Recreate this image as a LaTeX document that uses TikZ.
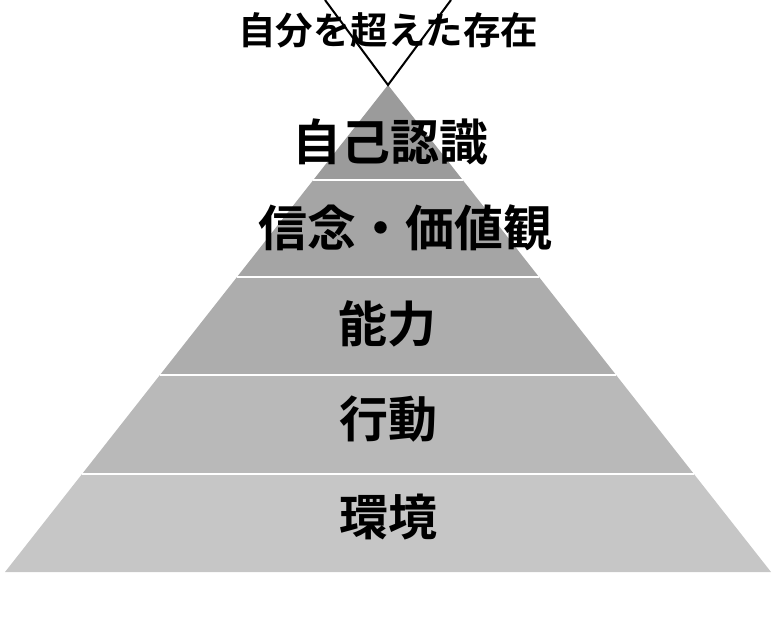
\documentclass[tikz,border=0pt]{standalone}
\usepackage{fontspec}
\newfontfamily\jpfont{Noto Sans CJK JP}[BoldFont={Noto Sans CJK JP Bold}]
\usepackage{tikz}
\usetikzlibrary{calc,positioning}
\definecolor{layerA}{HTML}{9B9B9B}
\definecolor{layerB}{HTML}{A5A5A5}
\definecolor{layerC}{HTML}{ADADAD}
\definecolor{layerD}{HTML}{B9B9B9}
\definecolor{layerE}{HTML}{C6C6C6}
\tikzset{
    %Define style for layer labels
    levelnode/.style={
             inner sep=0pt,
             font=\jpfont\bfseries\fontsize{49}{49}\selectfont},
    topnode/.style={
             inner sep=0pt,
             font=\jpfont\bfseries\fontsize{37.5}{37.5}\selectfont},
    % Define line styles
    divider/.style={
            white,
            line width=2.5pt},
    vline/.style={
            black,
            line width=2pt}
}
\begin{document}
\begin{tikzpicture}[x=1pt, y=-1pt]
 \useasboundingbox (0,0) rectangle (776,618);
 \coordinate (apex) at (388,85);
 \coordinate (bl) at (5,572);
 \coordinate (br) at (771,572);
 \coordinate (vl) at (325,0);
 \coordinate (vr) at (451,0);
 % layer edges
 \coordinate (l1) at ($(apex)!0.195!(bl)$);
 \coordinate (r1) at ($(apex)!0.195!(br)$);
 \coordinate (l2) at ($(apex)!0.394!(bl)$);
 \coordinate (r2) at ($(apex)!0.394!(br)$);
 \coordinate (l3) at ($(apex)!0.5955!(bl)$);
 \coordinate (r3) at ($(apex)!0.5955!(br)$);
 \coordinate (l4) at ($(apex)!0.799!(bl)$);
 \coordinate (r4) at ($(apex)!0.799!(br)$);
 \fill[layerA] (apex) -- (r1) -- (l1) -- cycle;
 \fill[layerB] (l1) -- (r1) -- (r2) -- (l2) -- cycle;
 \fill[layerC] (l2) -- (r2) -- (r3) -- (l3) -- cycle;
 \fill[layerD] (l3) -- (r3) -- (r4) -- (l4) -- cycle;
 \fill[layerE] (l4) -- (r4) -- (br) -- (bl) -- cycle;
 \draw[divider] (l1) -- (r1) (l2) -- (r2) (l3) -- (r3) (l4) -- (r4);
 \draw[vline] (vl) -- (apex) -- (vr);
 \node[topnode] (beyond) at (388,30) {自分を超えた存在};
 \node[levelnode] (identity) at (390,142) {自己認識};
 \node[levelnode] (belief) at (405,228) {信念・価値観};
 \node[levelnode] (ability) at (387,324) {能力};
 \node[levelnode] (behavior) at (388,419) {行動};
 \node[levelnode] (environment) at (388,517) {環境};
\end{tikzpicture}
\end{document}
